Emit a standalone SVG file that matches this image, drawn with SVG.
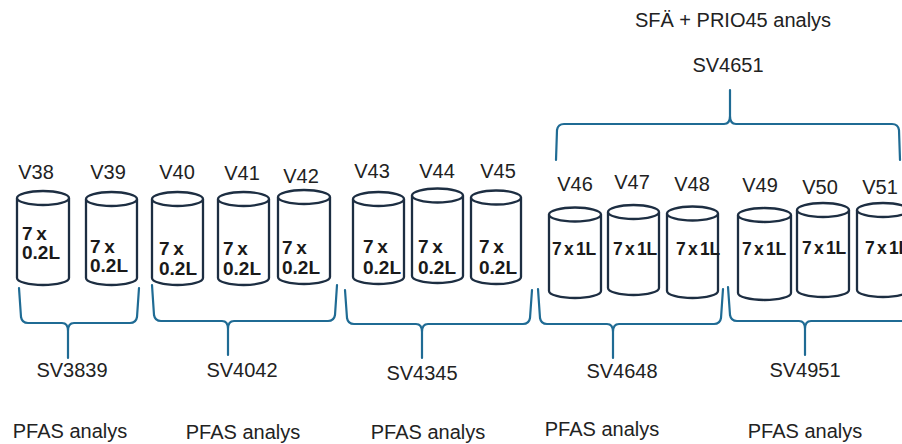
<svg xmlns="http://www.w3.org/2000/svg" width="902" height="444" viewBox="0 0 902 444">
<style>
.bg{fill:#ffffff}
.cyl{fill:#ffffff;stroke:#1d2e42;stroke-width:2.3}
.lbl{font-family:"Liberation Sans",Arial,sans-serif;font-size:20px;fill:#222222;text-anchor:middle}
.in{font-family:"Liberation Sans",Arial,sans-serif;font-size:19px;font-weight:bold;fill:#1a1a1a;word-spacing:-1.5px}
.in1{font-family:"Liberation Sans",Arial,sans-serif;font-size:17.5px;font-weight:bold;fill:#1a1a1a;letter-spacing:-0.3px;word-spacing:-2px}
.brace{fill:none;stroke:#1f6b94;stroke-width:2.2;stroke-linecap:round;stroke-linejoin:round}
</style>
<rect class="bg" x="0" y="0" width="902" height="444"/>

<g id="V38">
<path class="cyl" d="M17,198 L17,278 A26,7 0 0 0 69,278 L69,198"/>
<ellipse class="cyl" cx="43" cy="198" rx="26" ry="7"/>
<text class="lbl" x="36" y="179">V38</text>
<text class="in" x="22" y="240">7 x</text>
<text class="in" x="22" y="259">0.2L</text>
</g>
<g id="V39">
<path class="cyl" d="M86,199 L86,278 A25.5,7 0 0 0 137,278 L137,199"/>
<ellipse class="cyl" cx="111.5" cy="199" rx="25.5" ry="7"/>
<text class="lbl" x="108" y="179">V39</text>
<text class="in" x="90" y="253">7 x</text>
<text class="in" x="90" y="272">0.2L</text>
</g>
<g id="V40">
<path class="cyl" d="M152,199 L152,278 A25.5,7 0 0 0 203,278 L203,199"/>
<ellipse class="cyl" cx="177.5" cy="199" rx="25.5" ry="7"/>
<text class="lbl" x="177" y="179">V40</text>
<text class="in" x="159" y="255">7 x</text>
<text class="in" x="159" y="275">0.2L</text>
</g>
<g id="V41">
<path class="cyl" d="M218,199 L218,278 A25.5,7 0 0 0 269,278 L269,199"/>
<ellipse class="cyl" cx="243.5" cy="199" rx="25.5" ry="7"/>
<text class="lbl" x="242" y="180">V41</text>
<text class="in" x="223" y="255">7 x</text>
<text class="in" x="223" y="275">0.2L</text>
</g>
<g id="V42">
<path class="cyl" d="M278,197 L278,277 A26,7 0 0 0 330,277 L330,197"/>
<ellipse class="cyl" cx="304" cy="197" rx="26" ry="7"/>
<text class="lbl" x="301" y="183">V42</text>
<text class="in" x="282" y="254">7 x</text>
<text class="in" x="282" y="274">0.2L</text>
</g>
<g id="V43">
<path class="cyl" d="M353,199 L353,277 A25.5,7 0 0 0 404,277 L404,199"/>
<ellipse class="cyl" cx="378.5" cy="199" rx="25.5" ry="7"/>
<text class="lbl" x="372" y="178">V43</text>
<text class="in" x="363" y="253">7 x</text>
<text class="in" x="363" y="274">0.2L</text>
</g>
<g id="V44">
<path class="cyl" d="M412,195.5 L412,276 A25.5,7 0 0 0 463,276 L463,195.5"/>
<ellipse class="cyl" cx="437.5" cy="195.5" rx="25.5" ry="7"/>
<text class="lbl" x="437" y="178">V44</text>
<text class="in" x="418" y="253">7 x</text>
<text class="in" x="418" y="274">0.2L</text>
</g>
<g id="V45">
<path class="cyl" d="M471,197.5 L471,277 A25,7 0 0 0 521,277 L521,197.5"/>
<ellipse class="cyl" cx="496" cy="197.5" rx="25" ry="7"/>
<text class="lbl" x="498" y="178">V45</text>
<text class="in" x="479" y="253">7 x</text>
<text class="in" x="479" y="274">0.2L</text>
</g>
<g id="V46">
<path class="cyl" d="M549,214.5 L549,291 A26,7 0 0 0 601,291 L601,214.5"/>
<ellipse class="cyl" cx="575" cy="214.5" rx="26" ry="7"/>
<text class="lbl" x="575" y="191">V46</text>
<text class="in1" x="552" y="255">7 x 1L</text>
</g>
<g id="V47">
<path class="cyl" d="M608,212 L608,288 A25.5,7 0 0 0 659,288 L659,212"/>
<ellipse class="cyl" cx="633.5" cy="212" rx="25.5" ry="7"/>
<text class="lbl" x="632" y="189">V47</text>
<text class="in1" x="613" y="255">7 x 1L</text>
</g>
<g id="V48">
<path class="cyl" d="M667,213.5 L667,291 A25.5,7 0 0 0 718,291 L718,213.5"/>
<ellipse class="cyl" cx="692.5" cy="213.5" rx="25.5" ry="7"/>
<text class="lbl" x="692" y="191">V48</text>
<text class="in1" x="676" y="255">7 x 1L</text>
</g>
<g id="V49">
<path class="cyl" d="M738,215 L738,293 A26.5,7 0 0 0 791,293 L791,215"/>
<ellipse class="cyl" cx="764.5" cy="215" rx="26.5" ry="7"/>
<text class="lbl" x="760" y="192">V49</text>
<text class="in1" x="742" y="255">7 x 1L</text>
</g>
<g id="V50">
<path class="cyl" d="M797,210 L797,290 A26,7 0 0 0 849,290 L849,210"/>
<ellipse class="cyl" cx="823" cy="210" rx="26" ry="7"/>
<text class="lbl" x="820" y="194">V50</text>
<text class="in1" x="802" y="254">7 x 1L</text>
</g>
<g id="V51">
<path class="cyl" d="M857,210 L857,290 A26,7 0 0 0 909,290 L909,210"/>
<ellipse class="cyl" cx="883" cy="210" rx="26" ry="7"/>
<text class="lbl" x="880" y="194">V51</text>
<text class="in1" x="865" y="254">7 x 1L</text>
</g>

<g id="connectors">
<path class="brace" d="M19,288 L21,317 Q22,323 28,323 L62,323 Q68,323 68,331 L68,358 M68,331 Q68,323 74,323 L130,323 Q136,323 137,317 L139,288"/>
<path class="brace" d="M152,285 L154,315 Q155,321 161,321 L222,321 Q228,321 228,329 L228,355 M228,329 Q228,321 234,321 L328,321 Q334,321 335,315 L337,285"/>
<path class="brace" d="M345,290 L347,318 Q348,324 354,324 L416,324 Q422,324 422,332 L422,358 M422,332 Q422,324 428,324 L523,324 Q529,324 530,318 L532,290"/>
<path class="brace" d="M538,289 L540,318 Q541,324 547,324 L607,324 Q613,324 613,332 L613,358 M613,332 Q613,324 619,324 L714,324 Q720,324 721,318 L723,289"/>
<path class="brace" d="M728,287 L730,315 Q731,321 737,321 L799,321 Q805,321 805,329 L805,355 M805,329 Q805,321 811,321 L901,321 Q907,321 908,315 L910,287"/>
<path class="brace" d="M556,160 L557,130 Q558,124 564,124 L724,124 Q730,124 730,116 L730,90 M730,116 Q730,124 736,124 L892,124 Q898,124 899,130 L900,160"/>
</g>

<g id="labels">
<text class="lbl" x="72" y="377">SV3839</text>
<text class="lbl" x="242" y="377">SV4042</text>
<text class="lbl" x="422" y="380">SV4345</text>
<text class="lbl" x="622" y="378">SV4648</text>
<text class="lbl" x="805" y="377">SV4951</text>
<text class="lbl" x="70" y="438">PFAS analys</text>
<text class="lbl" x="243" y="439">PFAS analys</text>
<text class="lbl" x="428" y="439">PFAS analys</text>
<text class="lbl" x="602" y="436">PFAS analys</text>
<text class="lbl" x="805" y="438">PFAS analys</text>
<text class="lbl" x="733" y="27">SFÄ + PRIO45 analys</text>
<text class="lbl" x="728" y="72">SV4651</text>
</g>
</svg>
